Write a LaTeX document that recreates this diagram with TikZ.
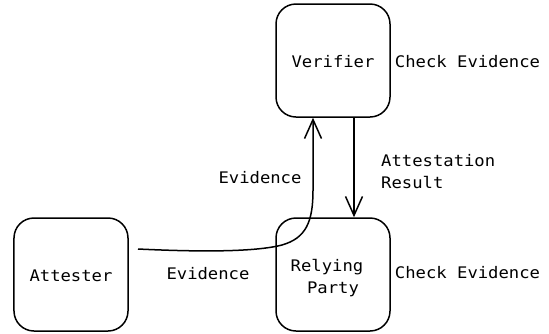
\documentclass[tikz,border=0pt]{standalone}
\usepackage{fontspec}
\setmonofont[FakeStretch=1.08]{DejaVu Sans Mono}
\usetikzlibrary{arrows.meta}
\tikzset{
  box/.style={draw, line width=1.5bp, rounded corners=20bp, minimum width=114bp,
    minimum height=113bp, inner sep=0pt, align=center},
  lbl/.style={inner sep=0pt, anchor=base},
  lbll/.style={inner sep=0pt, anchor=base west},
  conn/.style={line width=1.5bp, -{Straight Barb[length=19bp,width=17bp,line width=1.5bp]}},
}
\begin{document}
\begin{tikzpicture}[x=1bp, y=-1bp, font=\ttfamily\fontsize{16}{22}\selectfont]
\useasboundingbox (0,0) rectangle (549,333);

% the three parties
\node[box] (ver) at (333,60.5) {};
\node[box] (rp)  at (333,274.5) {};
\node[box] (att) at (71,274.5) {};

\node[lbl] (vertxt) at (333,67.5) {Verifier};
\node[lbl] (rptxt1) at (327,271) {Relying};
\node[lbl] (rptxt2) at (333,293) {Party};
\node[lbl] (atttxt) at (71,281) {Attester};

% side notes
\node[lbl] (chk1) at (467.5,67.5) {Check Evidence};
\node[lbl] (chk2) at (467.5,278) {Check Evidence};
\node[lbll] (res1) at (381,166.5) {Attestation};
\node[lbll] (res2) at (381,188) {Result};
\node[lbl] (ev1) at (260,183) {Evidence};
\node[lbl] (ev2) at (208,279.5) {Evidence};

% connectors
\coordinate (evstart) at (138,249);
\coordinate (upx) at (313,0);
\coordinate (downx) at (354,0);

\draw[conn] (evstart) .. controls (200,252) and (255,252) .. (282,245)
  .. controls (306,238) and (313,222) .. (313,190)
  -- (ver.south -| upx);
\draw[conn] (ver.south -| downx) -- (rp.north -| downx);
\end{tikzpicture}
\end{document}
